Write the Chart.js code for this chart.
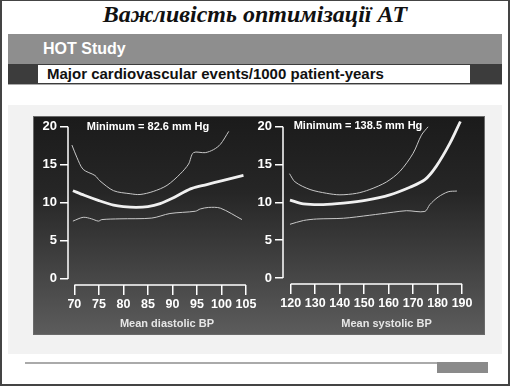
<!DOCTYPE html>
<html>
<head>
<meta charset="utf-8">
<script src="https://cdn.jsdelivr.net/npm/chart.js@4.4.1/dist/chart.umd.min.js"></script>
<style>
  html, body { margin: 0; padding: 0; }
  body { width: 510px; height: 386px; position: relative; background: #fff; overflow: hidden;
         font-family: "Liberation Sans", Arial, sans-serif; }
  .frame { position: absolute; left: 0; top: 0; width: 506px; height: 383px; border: 2px solid #444; border-top-width: 1px; }
  .title { position: absolute; left: 0; width: 510px; top: 1px; text-align: center;
           font-family: "Liberation Serif", "Times New Roman", serif; font-style: italic; font-weight: bold;
           font-size: 24px; color: #111; }
  .hot { position: absolute; left: 8px; top: 34px; width: 494px; height: 30px; background: #8e8e8e; }
  .hot span { position: absolute; left: 35px; top: 6px; color: #fff; font-weight: bold; font-size: 16px; }
  .sub { position: absolute; left: 8px; top: 64px; width: 494px; height: 20px; background: #3c3c3c;
         border-bottom: 1px solid #aaa; }
  .sub div { position: absolute; left: 30px; top: 1px; width: 432px; height: 18px; background: #fff;
             font-weight: bold; font-size: 15px; color: #111; line-height: 18px; padding-left: 9px; box-sizing: border-box; }
  .panel { position: absolute; left: 8px; top: 105px; width: 494px; height: 249px; background: #f2f2f2; }
  .dark { position: absolute; left: 33px; top: 116px; width: 452px; height: 219px;
          background: linear-gradient(#1b1b1b, #262626 35%, #5c5c5c); border: 1px solid #6a6a6a; box-sizing: border-box; }
  canvas { position: absolute; }
  .minlab { position: absolute; color: #fff; font-weight: bold; font-size: 11px; transform: translate(-50%, -50%); white-space: nowrap; }
  .rule { position: absolute; left: 25px; top: 362px; width: 463px; height: 2px; background: #aaa; }
  .tag { position: absolute; left: 437px; top: 362px; width: 51px; height: 11px; background: #8a8a8a; }
</style>
</head>
<body>
<div class="frame"></div>
<div class="title">Важливість оптимізації АТ</div>
<div class="hot"><span>HOT Study</span></div>
<div class="sub"><div>Major cardiovascular events/1000 patient-years</div></div>
<div class="panel"></div>
<div class="dark"></div>
<canvas id="dia" width="240" height="219" style="left:33px;top:116px"></canvas>
<canvas id="sys" width="250" height="219" style="left:250px;top:116px"></canvas>
<div class="minlab" style="left:148px;top:126px">Minimum = 82.6 mm Hg</div>
<div class="minlab" style="left:358px;top:125px">Minimum = 138.5 mm Hg</div>
<div class="rule"></div>
<div class="tag"></div>
<script>
// diastolic panel
const diaTicks = [70, 75, 80, 85, 90, 95, 100, 105];
const diaMidX = [69.7, 72, 75, 78, 80, 82.6, 85, 87.5, 90, 92, 94, 97, 100, 104.5];
const diaMidY = [11.6, 11.0, 10.3, 9.7, 9.5, 9.4, 9.5, 9.9, 10.6, 11.3, 11.9, 12.4, 12.9, 13.6];
const diaHiX = [69.5, 70.5, 71.8, 74.2, 75.2, 78, 81.4, 83.4, 86.1, 88.9, 91.6, 93.3, 94.3, 96.7, 98.4, 99.8, 101.5];
const diaHiY = [17.6, 16.0, 14.4, 13.6, 12.9, 11.6, 11.2, 11.1, 11.5, 12.3, 13.8, 15.1, 16.6, 16.6, 17.0, 17.7, 19.4];
const diaLoX = [69.7, 71.8, 73.5, 74.9, 75.6, 79.3, 85.8, 89.5, 94.7, 95.7, 97.4, 99.8, 104.2];
const diaLoY = [7.6, 8.1, 7.9, 7.6, 7.8, 7.9, 8.0, 8.6, 8.9, 9.2, 9.4, 9.3, 7.8];

// systolic panel
const sysTicks = [120, 130, 140, 150, 160, 170, 180, 190];
const sysMidX = [119.7, 125.2, 133.3, 141.5, 151, 160.5, 168.7, 174.8, 179.5, 185, 189.3];
const sysMidY = [10.3, 9.8, 9.7, 9.9, 10.3, 11.0, 12.0, 13.0, 14.8, 17.8, 20.7];
const sysHiX = [119.5, 121.8, 127.9, 134.7, 140.1, 146.9, 152.3, 159.1, 164.6, 170, 173.4, 176.1];
const sysHiY = [13.8, 12.7, 11.7, 11.2, 11.0, 11.2, 11.7, 12.7, 14.1, 16.5, 18.9, 20.0];
const sysLoX = [119.7, 125.2, 130.6, 141.5, 152.3, 161.9, 167.3, 174.8, 176.8, 180.2, 184.3, 187.9];
const sysLoY = [7.1, 7.6, 7.8, 7.9, 8.3, 8.7, 8.9, 8.8, 9.7, 10.7, 11.4, 11.5];

const yTicks = [0, 5, 10, 15, 20];

Chart.defaults.font.family = '"Liberation Sans", Arial, sans-serif';
Chart.defaults.color = '#fff';

const pts = (xs, ys) => xs.map((x, i) => ({x: x, y: ys[i]}));

// axis lines only between first and last tick, like the slide
const axisLines = {
  id: 'axisLines',
  afterDraw(chart) {
    const {ctx, chartArea, scales: {x, y}} = chart;
    const xt = x.ticks, yt = y.ticks;
    ctx.save();
    ctx.strokeStyle = '#fff';
    ctx.lineWidth = 1.5;
    ctx.beginPath();
    ctx.moveTo(x.getPixelForValue(xt[0].value), chartArea.bottom);
    ctx.lineTo(x.getPixelForValue(xt[xt.length - 1].value), chartArea.bottom);
    ctx.moveTo(chartArea.left, y.getPixelForValue(yt[0].value));
    ctx.lineTo(chartArea.left, y.getPixelForValue(yt[yt.length - 1].value));
    ctx.stroke();
    ctx.restore();
  }
};

function makeChart(id, ticks, xmin, xmax, mid, hi, lo, title, yWidth, xHeight, pad) {
  new Chart(document.getElementById(id), {
    type: 'line',
    data: {
      datasets: [
        {data: hi, borderColor: '#c8c8c8', borderWidth: 1},
        {data: mid, borderColor: '#f0f0f0', borderWidth: 2.8},
        {data: lo, borderColor: '#c8c8c8', borderWidth: 1}
      ]
    },
    options: {
      responsive: false,
      animation: false,
      clip: false,
      layout: {padding: pad},
      elements: {point: {radius: 0}, line: {tension: 0.3}},
      plugins: {legend: {display: false}, tooltip: {enabled: false}},
      scales: {
        x: {
          type: 'linear', min: xmin, max: xmax,
          afterBuildTicks: s => { s.ticks = ticks.map(v => ({value: v})); },
          afterFit: s => { s.height = xHeight; },
          grid: {drawOnChartArea: false, color: '#fff', lineWidth: 1.5, tickLength: 10},
          border: {display: false},
          ticks: {font: {size: 12.5, weight: 'bold'}, padding: 2, maxRotation: 0, autoSkip: false},
          title: {display: true, text: title, color: '#e6e6e6', font: {size: 11, weight: 'bold'}}
        },
        y: {
          min: -0.8, max: 20,
          afterBuildTicks: s => { s.ticks = yTicks.map(v => ({value: v})); },
          afterFit: s => { s.width = yWidth; },
          grid: {drawOnChartArea: false, color: '#fff', lineWidth: 1.5, tickLength: 8},
          border: {display: false},
          ticks: {font: {size: 13, weight: 'bold'}, padding: 3}
        }
      }
    },
    plugins: [axisLines]
  });
}

makeChart('dia', diaTicks, 68.7, 109.1, pts(diaMidX, diaMidY), pts(diaHiX, diaHiY), pts(diaLoX, diaLoY),
  'Mean diastolic BP', 35, 50, {top: 10, right: 7, left: 0, bottom: 0});
makeChart('sys', sysTicks, 116.85, 201.4, pts(sysMidX, sysMidY), pts(sysHiX, sysHiY), pts(sysLoX, sysLoY),
  'Mean systolic BP', 33, 51, {top: 9, right: 10, left: 0, bottom: 0});
</script>
</body>
</html>
